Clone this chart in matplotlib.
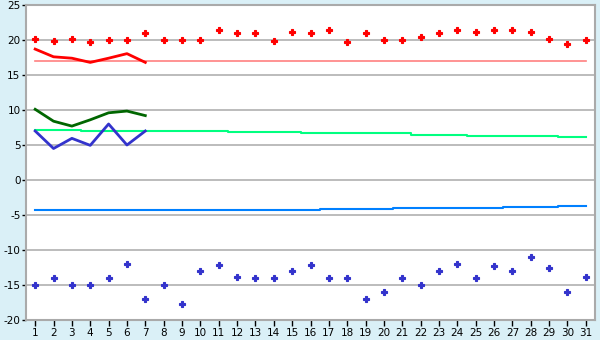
import matplotlib
matplotlib.use('Agg')
import matplotlib.pyplot as plt

days = list(range(1, 32))

# daily points
red_pts = [20.1, 19.8, 20.2, 19.7, 20.0, 20.0, 21.0, 20.0, 20.0, 20.0,
           21.5, 21.0, 21.0, 19.8, 21.1, 21.0, 21.4, 19.7, 21.0, 20.0,
           20.0, 20.5, 21.0, 21.4, 21.2, 21.4, 21.4, 21.2, 20.2, 19.4, 20.0]
blue_pts = [-15, -14, -15, -15, -14, -12, -17, -15, -17.7, -13,
            -12.2, -13.9, -14, -14, -13, -12.2, -14, -14, -17, -16,
            -14, -15, -13, -12, -14, -12.3, -13, -11, -12.5, -16, -13.9]

# first week lines
week_days = [1, 2, 3, 4, 5, 6, 7]
red_line = [18.7, 17.6, 17.4, 16.8, 17.4, 18.05, 16.8]
green_line = [10.1, 8.4, 7.7, 8.6, 9.6, 9.85, 9.2]
blue_line = [7.0, 4.5, 5.95, 4.95, 8.0, 5.0, 7.0]

# normals
pink_level = [17.0] * 31
lgreen_norm = [7.1] * 3 + [6.95] * 8 + [6.8] * 4 + [6.65] * 6 + [6.5] * 3 + [6.35] * 5 + [6.2] * 2
lblue_norm = [-4.3] * 16 + [-4.2] * 4 + [-4.05] * 6 + [-3.9] * 3 + [-3.75] * 2

plt.rcParams['axes.unicode_minus'] = False

bg = '#daf0f7'
fig = plt.figure(figsize=(6, 3.4), dpi=100, facecolor=bg)
ax = fig.add_axes([26 / 600, 20 / 340, 569 / 600, 315 / 340])
ax.set_facecolor('white')

ax.plot(days, pink_level, color='#ff8080', lw=1.2, zorder=2)
ax.plot(days, lgreen_norm, color='#00ff80', lw=1.5, drawstyle='steps-mid', zorder=2)
ax.plot(days, lblue_norm, color='#0080ff', lw=1.5, drawstyle='steps-mid', zorder=2)

ax.plot(week_days, red_line, color='#ff0000', lw=2, zorder=3)
ax.plot(week_days, green_line, color='#006600', lw=2, zorder=3)
ax.plot(week_days, blue_line, color='#3333cc', lw=2, zorder=3)

ax.plot(days, red_pts, ls='none', marker='P', ms=5, color='#ff0000', mew=0.8, zorder=4)
ax.plot(days, blue_pts, ls='none', marker='P', ms=5, color='#3333cc', mew=0.8, zorder=4)

ax.set_xlim(0.5, 31.5)
ax.set_ylim(-20, 25)
ax.set_xticks(days)
ax.set_yticks(range(-20, 26, 5))
ax.yaxis.grid(True, color='#b0b0b0', lw=1.2)
ax.set_axisbelow(True)
for s in ax.spines.values():
    s.set_color('#aaaaaa')
    s.set_linewidth(1.5)
ax.tick_params(axis='both', colors='black', labelsize=7.5, length=4, width=1, pad=2)
ax.tick_params(axis='y', length=3, pad=1)

fig.savefig('out.png', dpi=100, facecolor=bg)
